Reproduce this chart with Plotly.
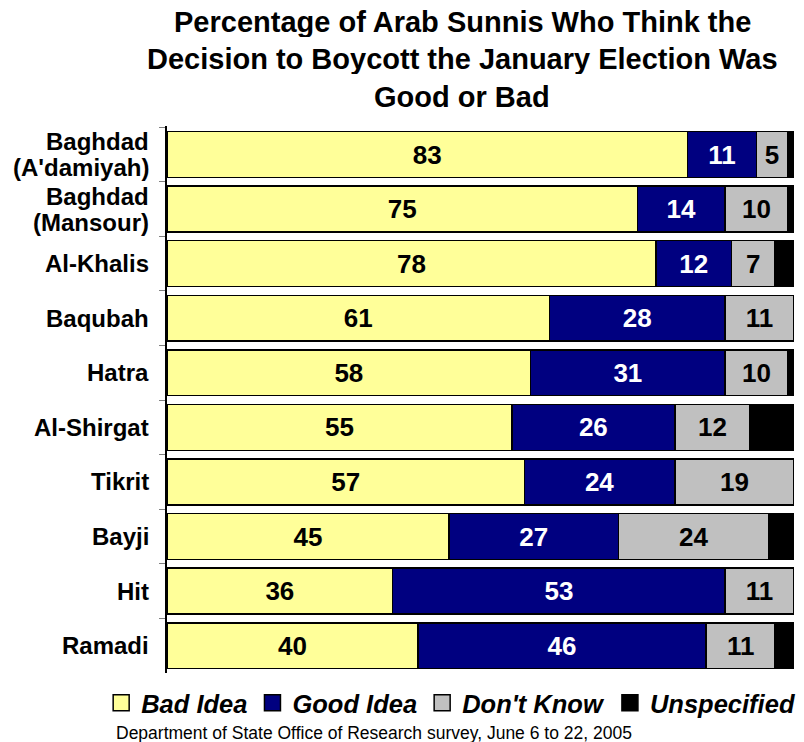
import plotly.graph_objects as go

categories = ["Baghdad<br>(A'damiyah)", "Baghdad<br>(Mansour)", "Al-Khalis", "Baqubah", "Hatra",
              "Al-Shirgat", "Tikrit", "Bayji", "Hit", "Ramadi"]
bad_idea = [83, 75, 78, 61, 58, 55, 57, 45, 36, 40]
good_idea = [11, 14, 12, 28, 31, 26, 24, 27, 53, 46]
dont_know = [5, 10, 7, 11, 10, 12, 19, 24, 11, 11]
unspecified = [1, 1, 3, 0, 1, 7, 0, 4, 0, 3]

series = [
    ("Bad Idea", bad_idea, "#FFFF99", "black"),
    ("Good Idea", good_idea, "#000080", "white"),
    ("Don't Know", dont_know, "#C0C0C0", "black"),
    ("Unspecified", unspecified, "#000000", "black"),
]

title_lines = ["Percentage of Arab Sunnis Who Think the",
               "Decision to Boycott the January Election Was",
               "Good or Bad"]
footer = "Department of State Office of Research survey, June 6 to 22, 2005"

FONT = "Liberation Sans, Arial, sans-serif"

fig = go.Figure()
for name, vals, color, tcolor in series:
    show_text = name != "Unspecified"
    fig.add_trace(go.Bar(
        name=name, y=categories, x=vals, orientation="h",
        marker=dict(color=color, line=dict(color="black", width=1.5)),
        text=[str(v) for v in vals] if show_text else None,
        texttemplate="%{text}" if show_text else None,
        textposition="inside" if show_text else "none",
        insidetextanchor="middle",
        textfont=dict(family=FONT, size=26, color=tcolor, weight="bold"),
        constraintext="none",
        showlegend=False,
        hoverinfo="skip",
    ))
    # legend proxy
    fig.add_trace(go.Scatter(
        name=name, x=[None], y=[None], mode="markers",
        marker=dict(symbol="square", size=17, color=color, line=dict(color="black", width=1.5)),
        showlegend=True,
    ))

annotations = []
# title lines
title_y = [1.190, 1.1216, 1.053]
for line, yy in zip(title_lines, title_y):
    annotations.append(dict(text=line, xref="paper", yref="paper", x=0.4705, y=yy,
                            xanchor="center", yanchor="middle", showarrow=False,
                            height=30, valign="middle",
                            font=dict(family=FONT, size=29, color="black", weight="bold")))
# y-axis category labels
for cat in categories:
    parts = cat.split("<br>")
    n = len(parts)
    for i, p in enumerate(parts):
        ys = ((n - 1) / 2 - i) * 26 if n > 1 else 0
        annotations.append(dict(text=p, xref="paper", yref="y", x=0, y=cat,
                                xanchor="right", yanchor="middle", xshift=-16, yshift=ys,
                                showarrow=False,
                                font=dict(family=FONT, size=24, color="black", weight="bold")))
# footer
annotations.append(dict(text=footer, xref="paper", yref="paper", x=0.33, y=-0.11,
                        xanchor="center", yanchor="middle", showarrow=False,
                        font=dict(family=FONT, size=17.5, color="black")))

fig.update_layout(
    barmode="stack",
    bargap=0.16,
    width=804, height=742,
    margin=dict(l=167, r=10, t=126, b=69, pad=0, autoexpand=False),
    paper_bgcolor="white", plot_bgcolor="white",
    font=dict(family=FONT, color="black"),
    xaxis=dict(range=[0, 100], visible=False),
    yaxis=dict(autorange="reversed", showticklabels=False, showgrid=False, zeroline=False,
               showline=True, linecolor="black", linewidth=1.5,
               ticks="outside", tickson="boundaries", ticklen=6, tickcolor="#808080"),
    legend=dict(orientation="h", xref="paper", yref="paper",
                x=-0.105, y=-0.055, xanchor="left", yanchor="middle",
                traceorder="normal",
                font=dict(family=FONT, size=25.5, color="black", weight="bold", style="italic"),
                itemwidth=30, tracegroupgap=0, bgcolor="rgba(0,0,0,0)"),
    uniformtext=dict(mode="show", minsize=26),
    annotations=annotations,
)

# remove the default page margin so the figure fills the 804x742 window exactly
fig.write_html("out.html",
               config={"displayModeBar": False},
               post_script="document.body.style.margin='0';document.body.style.overflow='hidden';")
